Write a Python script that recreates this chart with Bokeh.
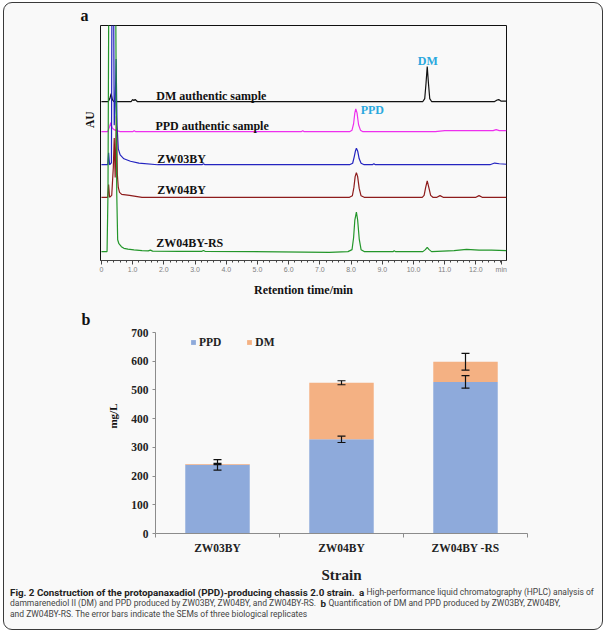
from bokeh.plotting import figure
from bokeh.models import (Range1d, FixedTicker, Title, ColumnDataSource, Whisker,
                          TeeHead, Legend, LegendItem)
from bokeh.layouts import column
from bokeh.embed import file_html
from bokeh.resources import INLINE
from bokeh.core.properties import value

SERIF = "Liberation Serif"
CAP_FONT = "Roboto"

# ---------------- panel a: HPLC chromatograms ----------------
trace_labels = ["DM authentic sample", "PPD authentic sample", "ZW03BY", "ZW04BY", "ZW04BY-RS"]
trace_colors = ["#111111", "#ee30ee", "#2424c0", "#8e1c1c", "#23962a"]
trace_baselines = [161, 130.5, 97, 64, 9]          # AU, vertical offset of each trace

dm_t = [0.0, 0.22, 0.27, 0.31, 0.35, 0.40, 0.50, 0.95, 1.00, 1.04, 1.08, 1.15, 4.0,
        10.30, 10.36, 10.40, 10.44, 10.48, 10.52, 10.58, 12.60, 12.68, 12.73, 12.80, 12.98]
dm_v = [0, 0, 3, 8, 2, 0, 0, 0, 2, 1, 2, 0, 0,
        0, 3, 18, 35.5, 18, 3, 0, 0, 1.5, 2, 0.5, 0.5]

ppd_t = [0.0, 0.20, 0.26, 0.30, 0.34, 0.40, 0.48, 0.60, 1.00, 1.05, 1.10, 6.40, 6.45, 6.50,
         7.95, 8.03, 8.08, 8.12, 8.15, 8.19, 8.24, 8.30, 8.38, 10.7, 11.0, 12.55, 12.65, 12.75, 12.98]
ppd_v = [0, 0, 5, 9, 4, 2, 1, 0, 0, 1, 0, 0, 1, 0,
         0, 1.5, 8, 19, 23, 19, 7, 1.5, 0, 0, 1, 1, 2, 1, 1]

zw03_t = [0.0, 0.20, 0.23, 0.26, 0.32, 0.35, 0.37, 0.41, 0.44, 0.47, 0.50, 0.54, 0.60, 0.72,
          0.93, 1.20, 1.80, 3.22, 3.27, 3.32, 7.95, 8.05, 8.10, 8.14, 8.17, 8.21, 8.26, 8.32,
          8.42, 8.68, 8.73, 8.78, 12.45, 12.60, 12.75, 12.98]
zw03_v = [0, 0, 12, 0, 2, 300, 300, 40, 60, 107, 40, 16, 10, 6,
          3.5, 1.7, 0, 0, 1, 0, 0, 1.5, 8, 14, 16.7, 14, 6, 1.5,
          0, 0, 1, 0, 0, 1.7, 1, 0.5]

zw04_t = [0.0, 0.20, 0.23, 0.26, 0.33, 0.38, 0.41, 0.44, 0.48, 0.51, 0.54, 0.58, 0.65, 0.90,
          1.30, 7.95, 8.04, 8.09, 8.13, 8.17, 8.21, 8.26, 8.32, 8.42, 10.28, 10.34, 10.39,
          10.44, 10.49, 10.55, 10.62, 10.75, 10.85, 10.95, 12.00, 12.10, 12.20, 12.98]
zw04_v = [0, 0, 13, 0, 2, 30, 60, 20, 82, 23, 10, 5, 3, 2,
          0, 0, 1.5, 10, 21, 25, 21, 9, 1.5, 0, 0, 2, 10,
          16.7, 10, 2, 0, 0, 1.7, 0, 0, 1.7, 0, 0]

rs_t = [0.0, 0.18, 0.21, 0.24, 0.45, 0.49, 0.52, 0.56, 0.64, 0.72, 0.85, 1.04, 1.30, 1.50,
        1.57, 1.64, 2.50, 3.22, 3.27, 3.32, 7.30, 7.90, 8.03, 8.08, 8.12, 8.17, 8.21, 8.26,
        8.32, 8.42, 9.35, 9.38, 9.42, 10.30, 10.38, 10.44, 10.50, 10.58, 11.30, 11.70, 12.10,
        12.50, 12.98]
rs_v = [0, 0, 60, 300, 300, 60, 12, 8, 5, 3.3, 2.5, 1.7, 1, 0.7,
        1.5, 0.5, 0.3, 0.3, 1.2, 0.3, -0.7, 0, 2, 14, 32, 40, 32, 13,
        2, 0, 0, 1, 0, 0, 2, 4.3, 2, 0, 1, 2.3, 1.5,
        1.5, 1]

trace_t = [dm_t, ppd_t, zw03_t, zw04_t, rs_t]
trace_v = [dm_v, ppd_v, zw03_v, zw04_v, rs_v]

time_ticks = [0, 1, 2, 3, 4, 5, 6, 7, 8, 9, 10, 11, 12]
time_tick_labels = ["0", "1.0", "2.0", "3.0", "4.0", "5.0", "6.0", "7.0", "8.0", "9.0",
                    "10.0", "11.0", "12.0"]
unit_tick = 12.81

peak_names = ["DM", "PPD"]
peak_label_t = [10.46, 8.68]
peak_label_y = [202, 152]
trace_label_t = [1.76, 1.73, 1.79, 1.79, 1.76]
trace_label_y = [167, 136, 103, 71, 18]

# ---------------- panel b: titres ----------------
categories = ["ZW03BY", "ZW04BY", "ZW04BY -RS"]
ppd_mg = [239, 328, 528]
dm_mg = [3, 197, 70]
ppd_sem = [18, 11, 22]
dm_sem = [2, 7, 29]
y_ticks = [0, 100, 200, 300, 400, 500, 600, 700]

BLUE = "#8eaadb"
ORANGE = "#f4b183"

# ---------------- caption ----------------
cap_text = ["Fig. 2 Construction of the protopanaxadiol (PPD)-producing chassis 2.0 strain.",
            "a", "High-performance liquid chromatography (HPLC) analysis of",
            "dammarenediol II (DM) and PPD produced by ZW03BY, ZW04BY, and ZW04BY-RS.",
            "b", "Quantification of DM and PPD produced by ZW03BY, ZW04BY,",
            "and ZW04BY-RS. The error bars indicate the SEMs of three biological replicates"]
cap_style = ["bold", "bold", "normal", "normal", "bold", "normal", "normal"]
cap_size = ["9.8px", "9.8px", "8.5px", "8.5px", "9.8px", "8.5px", "8.5px"]
cap_color = ["#222222", "#222222", "#444444", "#444444", "#222222", "#444444", "#444444"]
cap_x = [5.5, 354.5, 362, 5.5, 316, 324, 5.5]
cap_y = [5.5, 5.5, 5.5, 16.5, 16.5, 16.5, 27.5]

# ================= figure a =================
fa = figure(width=598, height=296, title="a",
            x_range=Range1d(-0.03, 12.98), y_range=Range1d(0, 238),
            output_backend="svg", toolbar_location=None, y_axis_type=None,
            min_border_left=96, min_border_right=96, min_border_top=22, min_border_bottom=36,
            background_fill_color=None, border_fill_color=None,
            outline_line_color="#111111", outline_line_width=1)
fa.grid.visible = False
fa.title.text_font = SERIF
fa.title.text_font_style = "bold"
fa.title.text_font_size = "16px"
fa.title.text_color = "#111111"
fa.title.align = "left"
fa.title.offset = -20
fa.title.standoff = 3

for t, v, base, col in zip(trace_t, trace_v, trace_baselines, trace_colors):
    fa.line(t, [vi + base for vi in v], line_color=col, line_width=1.2)

fa.text(trace_label_t, trace_label_y, text=trace_labels, text_font=value(SERIF),
        text_font_style="bold", text_font_size="12px", text_color="#111111",
        text_align="left", text_baseline="middle")
fa.text(peak_label_t, peak_label_y, text=peak_names, text_font=value(SERIF),
        text_font_style="bold", text_font_size="12px", text_color="#2aa8de",
        text_align="center", text_baseline="middle")

ax = fa.xaxis[0]
ax.ticker = FixedTicker(ticks=time_ticks + [unit_tick],
                        minor_ticks=[i / 5 for i in range(0, 65)])
overrides = {t: s for t, s in zip(time_ticks, time_tick_labels)}
overrides[unit_tick] = "min"
ax.major_label_overrides = overrides
ax.major_label_text_font = "Liberation Sans"
ax.major_label_text_font_size = "7px"
ax.major_label_text_color = "#808080"
ax.major_label_standoff = 1
ax.major_tick_in = 0
ax.major_tick_out = 4
ax.minor_tick_in = 0
ax.minor_tick_out = 2
ax.axis_line_color = "#444444"
ax.major_tick_line_color = "#444444"
ax.minor_tick_line_color = "#444444"
ax.axis_label = "Retention time/min"
ax.axis_label_text_font = SERIF
ax.axis_label_text_font_style = "bold"
ax.axis_label_text_font_size = "12px"
ax.axis_label_text_color = "#111111"
ax.axis_label_standoff = 7

fa.add_layout(Title(text="AU", align="right", offset=86, vertical_align="bottom", standoff=9,
                    text_font=SERIF, text_font_style="bold", text_font_size="11.5px",
                    text_color="#111111"), "left")

# ================= figure b =================
xpos = [i + 0.5 for i in range(len(categories))]
tot = [a + b for a, b in zip(ppd_mg, dm_mg)]
src = ColumnDataSource(dict(x=xpos, PPD=ppd_mg, DM=dm_mg))

fb = figure(width=598, height=287, title="b",
            x_range=Range1d(0, 3), y_range=Range1d(0, 700),
            output_backend="svg", toolbar_location=None,
            min_border_left=151, min_border_right=75, min_border_top=33, min_border_bottom=53,
            background_fill_color=None, border_fill_color=None, outline_line_color=None)
fb.grid.visible = False
fb.title.text_font = SERIF
fb.title.text_font_style = "bold"
fb.title.text_font_size = "16px"
fb.title.text_color = "#111111"
fb.title.align = "left"
fb.title.offset = -74
fb.title.standoff = 9

rs_bars = fb.vbar_stack(["PPD", "DM"], x="x", width=0.52, color=[BLUE, ORANGE],
                        line_color=None, source=src)

err_src = ColumnDataSource(dict(
    x=xpos + xpos,
    upper=[p + e for p, e in zip(ppd_mg, ppd_sem)] + [t + e for t, e in zip(tot, dm_sem)],
    lower=[p - e for p, e in zip(ppd_mg, ppd_sem)] + [t - e for t, e in zip(tot, dm_sem)]))
fb.add_layout(Whisker(source=err_src, base="x", upper="upper", lower="lower", level="overlay",
                      line_color="#111111", line_width=1.2,
                      upper_head=TeeHead(size=8, line_color="#111111", line_width=1.2),
                      lower_head=TeeHead(size=8, line_color="#111111", line_width=1.2)))

leg = Legend(items=[LegendItem(label="PPD", renderers=[rs_bars[0]]),
                    LegendItem(label="DM", renderers=[rs_bars[1]])],
             location=(35, 185), orientation="horizontal",
             glyph_width=6, glyph_height=6, label_standoff=3, label_height=12,
             spacing=25, padding=0, margin=0, border_line_color=None,
             background_fill_alpha=0, label_text_font=SERIF, label_text_font_style="bold",
             label_text_font_size="11.5px", label_text_color="#222222")
fb.add_layout(leg)

yax = fb.yaxis[0]
yax.ticker = FixedTicker(ticks=y_ticks)
yax.major_label_text_font = SERIF
yax.major_label_text_font_style = "bold"
yax.major_label_text_font_size = "11.5px"
yax.major_label_text_color = "#222222"
yax.major_label_standoff = 4
yax.major_tick_in = 0
yax.major_tick_out = 3
yax.minor_tick_line_color = None
yax.axis_line_color = "#8c8c8c"
yax.major_tick_line_color = "#8c8c8c"

fb.add_layout(Title(text="mg/L", align="right", offset=71, vertical_align="bottom", standoff=19,
                    text_font=SERIF, text_font_style="bold", text_font_size="11px",
                    text_color="#111111"), "left")

xax = fb.xaxis[0]
xax.ticker = FixedTicker(ticks=xpos, minor_ticks=[0, 1, 2, 3])
xax.major_label_overrides = {x: c for x, c in zip(xpos, categories)}
xax.major_label_text_font = SERIF
xax.major_label_text_font_style = "bold"
xax.major_label_text_font_size = "11.5px"
xax.major_label_text_color = "#222222"
xax.major_label_standoff = 4
xax.major_tick_line_color = None
xax.major_tick_in = 0
xax.major_tick_out = 0
xax.minor_tick_in = 0
xax.minor_tick_out = 4
xax.minor_tick_line_color = "#8c8c8c"
xax.axis_line_color = "#8c8c8c"
xax.axis_label = "Strain"
xax.axis_label_text_font = SERIF
xax.axis_label_text_font_style = "bold"
xax.axis_label_text_font_size = "15px"
xax.axis_label_text_color = "#222222"
xax.axis_label_standoff = 10

# ================= caption =================
fc = figure(width=598, height=43,
            x_range=Range1d(0, 598), y_range=Range1d(43, 0),
            output_backend="svg", toolbar_location=None, min_border=0,
            x_axis_type=None, y_axis_type=None, outline_line_color=None,
            background_fill_color=None, border_fill_color=None)
cap_src = ColumnDataSource(dict(x=cap_x, y=cap_y, text=cap_text, style=cap_style,
                                color=cap_color, size=cap_size))
fc.text("x", "y", text="text", source=cap_src, text_font=value(CAP_FONT),
        text_font_style="style", text_color="color", text_font_size="size",
        text_align="left", text_baseline="middle")

layout = column(column(fa), column(fb), column(fc), margin=(2, 0, 0, 3),
                styles={"border": "1.5px solid #3a3a3a", "border-radius": "9px",
                        "background-color": "#f9f9f9"})

open("out.html", "w").write(file_html(layout, INLINE))
